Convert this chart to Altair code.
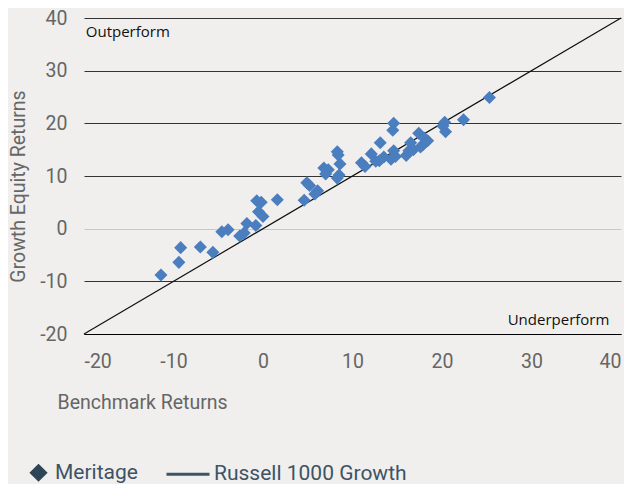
import altair as alt
import pandas as pd

# Benchmark (x) and Growth Equity (y) returns for Meritage
bench = [-11.4, -9.4, -9.2, -7.0, -5.6, -4.6, -3.9, -2.6, -2.1, -1.8, -0.8, -0.7, -0.2, -0.5, 0.0,
         1.6, 4.6, 4.9, 5.2, 5.8, 6.1, 6.8, 7.0, 7.3, 8.3, 8.4, 8.6, 8.5, 8.3, 11.0,
         11.4, 12.1, 12.6, 13.1, 13.5, 13.0, 14.3, 14.6, 14.6, 14.5, 14.8, 16.0, 16.3, 16.5, 16.8,
         17.4, 17.9, 17.6, 18.4, 18.0, 20.3, 20.4, 20.1, 22.4, 25.3]
growth = [-8.8, -6.4, -3.6, -3.5, -4.5, -0.6, -0.2, -1.4, -0.8, 1.0, 0.6, 5.3, 5.0, 3.2, 2.3,
          5.5, 5.4, 8.7, 8.2, 6.6, 7.2, 11.5, 10.4, 11.2, 14.6, 14.0, 12.3, 10.2, 9.6, 12.5,
          11.8, 14.2, 12.8, 16.3, 13.6, 12.9, 13.2, 14.8, 20.0, 18.7, 13.7, 13.9, 14.8, 16.3, 15.0,
          18.1, 16.0, 15.5, 16.7, 17.2, 20.2, 18.4, 19.5, 20.7, 24.9]

series_names = ["Meritage", "Russell 1000 Growth"]
line_x = [-20, 40]
line_y = [-20, 40]
axis_ticks = [-20, -10, 0, 10, 20, 30, 40]

outperform = {"label": ["Outperform"], "x": [-19.8], "y": [37.3]}
underperform = {"label": ["Underperform"], "x": [38.7], "y": [-17.3]}

pts = pd.DataFrame({"x": bench, "y": growth})
line_df = pd.DataFrame({"x": line_x, "y": line_y})
legend_df = pd.DataFrame({"series": series_names})

FONT = "Roboto"
GRAY = "#666666"
LEG = "#3d5366"
DIAMOND_PATH = "M-0.7,0L0,-0.7L0.7,0L0,0.7Z"
LINE_PATH = "M-3.1,0L1.2,0"

xscale = alt.Scale(domain=[-20, 40], nice=False, zero=False)
yscale = alt.Scale(domain=[-20, 40], nice=False, zero=False)

x_axis = alt.Axis(values=axis_ticks, title="Benchmark Returns", grid=False, domain=True,
                  domainColor="#000000", domainWidth=1, ticks=False, labelPadding=18,
                  labelExpr="datum.value + ''",
                  labelFont=FONT, labelFontSize=19.5, labelColor=GRAY, labelFontWeight="normal",
                  titleFont=FONT, titleFontSize=19.5, titleColor=GRAY, titleFontWeight="normal",
                  titleAnchor="start", titleAlign="left", titleX=-27, titleY=68,
                  titleBaseline="middle")
y_axis = alt.Axis(values=axis_ticks, title="Growth Equity Returns", grid=True,
                  gridColor=alt.condition("datum.value == 0", alt.value("#c8c8c8"), alt.value("#333333")),
                  gridWidth=1, domain=False, ticks=False, labelPadding=17,
                  labelExpr="datum.value + ''",
                  labelFont=FONT, labelFontSize=19.5, labelColor=GRAY, labelFontWeight="normal",
                  titleFont=FONT, titleFontSize=19.5, titleColor=GRAY, titleFontWeight="normal",
                  titleX=-66, titleY=168, titleAlign="center", titleBaseline="middle", titleAngle=270)

base_line = alt.Chart(line_df).mark_line(color="#111111", strokeWidth=1.2).encode(
    x=alt.X("x:Q", scale=xscale, axis=x_axis),
    y=alt.Y("y:Q", scale=yscale, axis=y_axis),
)

scatter = alt.Chart(pts).mark_point(shape="diamond", filled=True, size=170, color="#4a7ebf",
                                    opacity=1).encode(
    x=alt.X("x:Q", scale=xscale),
    y=alt.Y("y:Q", scale=yscale),
)

leg = alt.Legend(title=None, orient="none", legendX=-57, legendY=443, padding=0,
                 direction="horizontal", labelFont=FONT, labelFontSize=21,
                 labelColor=LEG, labelLimit=400, symbolSize=400, symbolStrokeWidth=3,
                 symbolOpacity=1, labelOffset=5, columnPadding=22)

legend_layer = alt.Chart(legend_df).transform_filter("false").mark_point(
    filled=False, strokeWidth=3, opacity=1).encode(
    shape=alt.Shape("series:N", scale=alt.Scale(domain=series_names, range=[DIAMOND_PATH, LINE_PATH]),
                    legend=leg),
    stroke=alt.Stroke("series:N", scale=alt.Scale(domain=series_names, range=["#2e4457", LEG]),
                      legend=leg),
    fill=alt.Fill("series:N", scale=alt.Scale(domain=series_names, range=["#2e4457", LEG]),
                  legend=leg),
)

out_text = alt.Chart(pd.DataFrame(outperform)).mark_text(
    align="left", baseline="middle", font="Open Sans", fontSize=15, color="#111111").encode(
    x=alt.X("x:Q", scale=xscale), y=alt.Y("y:Q", scale=yscale), text="label:N")
under_text = alt.Chart(pd.DataFrame(underperform)).mark_text(
    align="right", baseline="middle", font="Open Sans", fontSize=15, color="#111111").encode(
    x=alt.X("x:Q", scale=xscale), y=alt.Y("y:Q", scale=yscale), text="label:N")

chart = alt.layer(base_line, scatter, out_text, under_text, legend_layer).properties(
    width=537, height=316, padding=0, background="#f0efed"
).configure_view(stroke=None)

chart.save("out.html", embed_options={"renderer": "svg", "actions": False})
